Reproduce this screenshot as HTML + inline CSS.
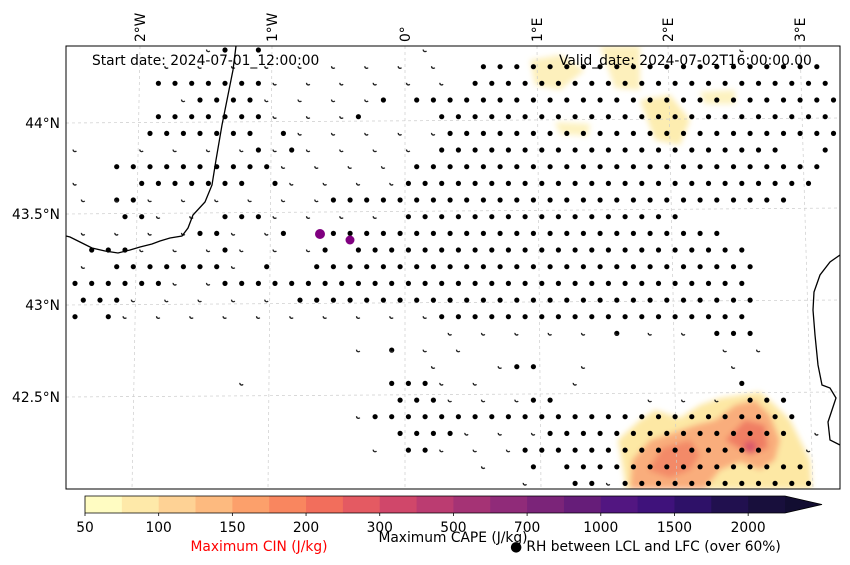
<!DOCTYPE html>
<html><head><meta charset="utf-8">
<style>
body{margin:0;background:#fff;}
svg{display:block;font-family:"DejaVu Sans","Liberation Sans",sans-serif;}
</style></head>
<body>
<svg id="chart" width="850" height="565" viewBox="0 0 850 565" xmlns="http://www.w3.org/2000/svg">
<defs>
<clipPath id="mapclip"><rect x="66" y="46" width="774" height="443"/></clipPath>
<filter id="blur" x="-20%" y="-20%" width="140%" height="140%"><feGaussianBlur stdDeviation="3"/></filter>
</defs>
<rect x="0" y="0" width="850" height="565" fill="#fff"/>
<g clip-path="url(#mapclip)">
  <g id="cape" filter="url(#blur)">
    <path d="M625,480 L618,440 L640,420 L655,410 L680,418 L700,405 L720,398 L740,395 L760,392 L775,405 L790,420 L800,440 L810,460 L812,489 L625,489 Z" fill="#fde8a4"/>
    <path d="M630,489 L632,460 L650,440 L675,432 L695,425 L715,420 L735,405 L755,400 L770,415 L780,440 L775,460 L760,470 L740,462 L720,470 L705,489 Z" fill="#f9ad7c"/>
    <path d="M648,470 L662,448 L690,440 L700,455 L690,470 L670,478 Z" fill="#f38a68"/>
    <path d="M725,440 L745,420 L765,425 L768,448 L750,455 Z" fill="#f07e64"/>
    <circle cx="750" cy="447" r="6" fill="#d9566a"/>
    <path d="M530,60 L560,55 L585,70 L560,90 L535,85 Z" fill="#fdf0bc"/>
    <path d="M600,46 L640,46 L640,90 L615,88 Z" fill="#fdf0bc"/>
    <path d="M640,100 L670,95 L690,120 L680,145 L655,140 Z" fill="#fdedb0"/>
    <path d="M700,92 L735,90 L735,104 L705,104 Z" fill="#fdf2c0"/>
    <path d="M555,122 L590,124 L588,136 L560,134 Z" fill="#fdf2c0"/>
  </g>
  <g id="grid" stroke="#ccc" stroke-width="0.7" stroke-dasharray="3,3" fill="none"></g>
  <g id="dots"></g>
  <path d="M236,46 L233,70 L228,95 L222,125 L216,160 L212,185 L205,202 L193,215 L188,228 L182,236 L170,238 L160,241 L152,244 L140,247 L130,250 L118,253 L105,251 L92,248 L80,242 L70,237 L66,236" fill="none" stroke="#000" stroke-width="1.3"/>
  <path d="M840,255 L830,262 L820,275 L814,292 L813,310 L815,335 L818,365 L822,385 L830,388 L836,398 L832,410 L828,422 L830,440 L840,445" fill="none" stroke="#000" stroke-width="1.3"/>
  <circle cx="320" cy="234" r="5" fill="#800080"/>
  <circle cx="350" cy="240" r="4.5" fill="#800080"/>
</g>
<rect x="66" y="46" width="774" height="443" fill="none" stroke="#000" stroke-width="1"/>
<g id="lonlabels" font-size="13.8" fill="#000"></g>
<g id="latlabels" font-size="13.8" fill="#000"></g>
<text x="92" y="65" font-size="13.8">Start date: 2024-07-01_12:00:00</text>
<text x="559" y="65" font-size="13.8">Valid_date: 2024-07-02T16:00:00.00</text>
<g id="cbar"></g>
<g id="cbarlabels" font-size="13.8" text-anchor="middle"></g>
<text x="453" y="542" font-size="13.8" text-anchor="middle">Maximum CAPE (J/kg)</text>
<text x="259" y="551" font-size="13.8" text-anchor="middle" fill="#ff0000">Maximum CIN (J/kg)</text>
<text x="510" y="551" font-size="13.8">● RH between LCL and LFC (over 60%)</text>
</svg>
<script>
// ---- data ----
const lonLabels = ["2°W","1°W","0°","1°E","2°E","3°E"];
const lonTop = [140,272,405,537,668,800];
const lonBottom = [132,268,405,541,677,813];
const latLabels = ["44°N","43.5°N","43°N","42.5°N"];
const latLeft = [123,214,305,397];
const latRight = [118,208,300,392];
const cbarTicks = ["50","100","150","200","300","500","700","1000","1500","2000"];
const cbarColors = ["#fffcc2","#fee9a9","#fed295","#fdba7f","#fca06b","#f9865f","#f26e5c","#e45a62","#d0476a","#bb3c71","#a53375","#902b79","#7b2479","#661d79","#521681","#3f127b","#2e1168","#21104f","#180f3c"];
// dot rows: [rowIndex, fullRanges, partialRanges]
const rowIdx = [0,1,2,3,4,5,6,7,8,9,10,11,12,13,14,15,16,17,18,19,20,21,22,23,24,25,26];
const fullRanges = [
 [[9,9],[11,11]],[[24,44]],[[5,11],[24,45]],[[7,10],[18,18],[20,45]],[[5,11],[17,17],[22,45]],
 [[4,10],[12,12],[22,45]],[[11,11],[13,13],[22,42],[45,45]],[[2,11],[20,44]],[[4,10],[12,12],[20,44]],[[2,3],[15,42]],
 [[3,4],[9,11],[20,36]],[[7,8],[12,12],[15,38]],[[1,3],[9,9],[15,15],[17,40]],[[2,8],[11,11],[14,40]],[[0,5],[9,40]],
 [[0,2],[13,40]],[[0,0],[2,2],[22,40]],[[32,32],[38,40]],[[19,19]],[[26,27]],
 [[19,21],[40,40]],[[19,21],[27,28],[40,42]],[[18,43]],[[19,22],[28,42]],[[20,21],[27,41]],[[27,27],[29,43]],[[30,31],[33,44]]
];
const partRanges = [
 [[8,8],[21,21],[40,40]],[[5,22]],[[12,23]],[[6,6],[11,17]],[[12,16]],
 [[13,21]],[[0,0],[4,10],[12,12],[14,21]],[[12,19]],[[0,0],[13,19]],[[0,14]],
 [[5,8],[12,19]],[[0,6],[9,11]],[[4,8],[10,14]],[[0,1],[9,10]],[[6,8]],
 [[3,12]],[[3,21]],[[22,37]],[[17,23],[39,41]],[[21,21],[25,25],[30,30],[39,40]],
 [[10,10],[22,24],[30,30]],[[22,26],[34,38]],[[17,17]],[[23,27],[44,45]],[[18,18],[22,26],[44,44]],[[24,24]],[[27,27],[32,32]]
];
// ---- scales ----
const NS="http://www.w3.org/2000/svg";
const colX = (i,j) => 75 + 16.67*(i + (j%2)*0.5);
const rowY = j => 50 + 16.67*j;
function mk(tag,attrs,parent){const e=document.createElementNS(NS,tag);for(const k in attrs)e.setAttribute(k,attrs[k]);parent.appendChild(e);return e;}
// grid
const grid=document.getElementById('grid');
lonTop.forEach((x,k)=>{const l=mk('line',{x1:x,y1:46,x2:lonBottom[k],y2:489},grid);

});
latLeft.forEach((y,k)=>{const l=mk('line',{x1:66,y1:y,x2:840,y2:latRight[k]},grid);

});
// labels
const lg=document.getElementById('lonlabels');
lonLabels.forEach((t,k)=>{const e=mk('text',{transform:`translate(${lonTop[k]+5},42) rotate(-90)`},lg);e.textContent=t;

});
const la=document.getElementById('latlabels');
latLabels.forEach((t,k)=>{const e=mk('text',{x:60,y:latLeft[k]+5,'text-anchor':'end'},la);e.textContent=t;

});
// dots
const dg=document.getElementById('dots');
rowIdx.forEach((j,n)=>{
  fullRanges[n].forEach(([a,b])=>{for(let i=a;i<=b;i++){const c=mk('circle',{cx:colX(i,j).toFixed(1),cy:rowY(j).toFixed(1),r:2.6,fill:'#000'},dg);
    
    }});
  partRanges[n].forEach(([a,b])=>{for(let i=a;i<=b;i+=2){const x=colX(i,j),y=rowY(j);
    const p=mk('path',{d:`M${(x-1.8).toFixed(1)},${(y-0.5).toFixed(1)} a1.8,1.8 0 0 0 3.2,1.4`,fill:'none',stroke:'#222','stroke-width':1.3},dg);
    
    }});
});
// colorbar
const cb=document.getElementById('cbar');
const cx0=85,cx1=785,cy0=496,cy1=513,w=(cx1-cx0)/cbarColors.length;
cbarColors.forEach((c,k)=>{const r=mk('rect',{x:(cx0+k*w).toFixed(2),y:cy0,width:(w+0.6).toFixed(2),height:cy1-cy0,fill:c},cb);

});
const tri=mk('path',{d:`M${cx1},${cy0} L822,${(cy0+cy1)/2} L${cx1},${cy1} Z`,fill:'#120d31'},cb);


const fr=mk('path',{d:`M${cx0},${cy0} L${cx1},${cy0} L822,${(cy0+cy1)/2} L${cx1},${cy1} L${cx0},${cy1} Z`,fill:'none',stroke:'#000','stroke-width':0.8},cb);


const cl=document.getElementById('cbarlabels');
cbarTicks.forEach((t,k)=>{const x=cx0+k*2*w;
  const tk=mk('line',{x1:x,y1:cy1,x2:x,y2:cy1+3,stroke:'#000','stroke-width':0.8},cl);
  
  
  const e=mk('text',{x:x,y:532},cl);e.textContent=t;
  
  });
</script>
</body></html>
